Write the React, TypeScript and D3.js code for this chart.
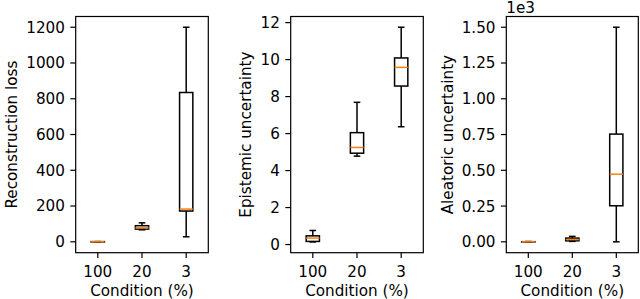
import React from "react";
import * as d3 from "d3";

const categories = ["100", "20", "3"];

// box stats: [whiskerLow, q1, median, q3, whiskerHigh]
const reconLoss = [
  [-1, -1, 0, 1, 1],
  [67, 71, 78, 90, 106],
  [28, 172, 183, 835, 1200],
];
const epistemic = [
  [0.14, 0.17, 0.35, 0.47, 0.76],
  [4.78, 4.94, 5.25, 6.05, 7.69],
  [6.37, 8.57, 9.58, 10.09, 11.75],
];
const aleatoric = [
  [-0.001, -0.001, 0.0, 0.001, 0.002],
  [0.003, 0.007, 0.016, 0.026, 0.038],
  [0.0, 0.252, 0.473, 0.753, 1.5],
];

const reconTicks = [0, 200, 400, 600, 800, 1000, 1200];
const epiTicks = [0, 2, 4, 6, 8, 10, 12];
const aleTicks = [0, 0.25, 0.5, 0.75, 1.0, 1.25, 1.5];

const panels = [
  { data: reconLoss, ticks: reconTicks, fmt: (v: number) => String(v), ylabel: "Reconstruction loss", left: 75.7, right: 208.3, ylabelX: 16.5, offset: "" },
  { data: epistemic, ticks: epiTicks, fmt: (v: number) => String(v), ylabel: "Epistemic uncertainty", left: 290.7, right: 423.3, ylabelX: 250.5, offset: "" },
  { data: aleatoric, ticks: aleTicks, fmt: (v: number) => v.toFixed(2), ylabel: "Aleatoric uncertainty", left: 506.3, right: 638.3, ylabelX: 452.5, offset: "1e3" },
];

const TOP = 16.5;
const BOTTOM = 252.7;
const FONT = "DejaVu Sans, sans-serif";
const FS = 15.2;
const TICK = 5.4;

function Panel({ p }: { p: typeof panels[number] }) {
  const all = p.data.flat();
  const lo = Math.min(...all), hi = Math.max(...all);
  const m = (hi - lo) * 0.05;
  const y = d3.scaleLinear().domain([lo - m, hi + m]).range([BOTTOM, TOP]);
  const x = d3.scaleLinear().domain([0.5, 3.5]).range([p.left, p.right]);
  const bw = x(1.15) - x(1);
  const cw = x(1.075) - x(1);
  const lw = 1.5;
  return (
    <g>
      {p.data.map((d, i) => {
        const cx = x(i + 1);
        const [wl, q1, med, q3, wh] = d;
        return (
          <g key={i} fill="none" stroke="#000" strokeWidth={lw}>
            <line x1={cx} x2={cx} y1={y(wl)} y2={y(q1)} />
            <line x1={cx} x2={cx} y1={y(q3)} y2={y(wh)} />
            <line x1={cx - cw} x2={cx + cw} y1={y(wl)} y2={y(wl)} />
            <line x1={cx - cw} x2={cx + cw} y1={y(wh)} y2={y(wh)} />
            <rect x={cx - bw} y={y(q3)} width={2 * bw} height={Math.max(0, y(q1) - y(q3))} />
            <line x1={cx - bw} x2={cx + bw} y1={y(med)} y2={y(med)} stroke="#ff7f0e" />
          </g>
        );
      })}
      <rect x={p.left} y={TOP} width={p.right - p.left} height={BOTTOM - TOP} fill="none" stroke="#000" strokeWidth={1.2} />
      {p.ticks.map((t) => (
        <g key={t}>
          <line x1={p.left - TICK} x2={p.left} y1={y(t)} y2={y(t)} stroke="#000" strokeWidth={1.2} />
          <text x={p.left - 2 * TICK} y={y(t)} dy="0.36em" textAnchor="end" fontSize={FS} fontFamily={FONT} fill="#000">{p.fmt(t)}</text>
        </g>
      ))}
      {categories.map((c, i) => (
        <g key={c}>
          <line x1={x(i + 1)} x2={x(i + 1)} y1={BOTTOM} y2={BOTTOM + TICK} stroke="#000" strokeWidth={1.2} />
          <text x={x(i + 1)} y={277.3} textAnchor="middle" fontSize={FS} fontFamily={FONT} fill="#000">{c}</text>
        </g>
      ))}
      <text x={(p.left + p.right) / 2} y={295.5} textAnchor="middle" fontSize={FS} fontFamily={FONT} fill="#000">Condition (%)</text>
      <text transform={`translate(${p.ylabelX},${(TOP + BOTTOM) / 2}) rotate(-90)`} textAnchor="middle" fontSize={FS} fontFamily={FONT} fill="#000">{p.ylabel}</text>
      {p.offset && (
        <text x={p.left} y={13.3} fontSize={FS} fontFamily={FONT} fill="#000">{p.offset}</text>
      )}
    </g>
  );
}

export default function App() {
  return (
    <svg width={640} height={299} style={{ position: "absolute", left: 0, top: 0, background: "#fff" }}>
      <rect width={640} height={299} fill="#fff" />
      {panels.map((p, i) => <Panel key={i} p={p} />)}
    </svg>
  );
}
